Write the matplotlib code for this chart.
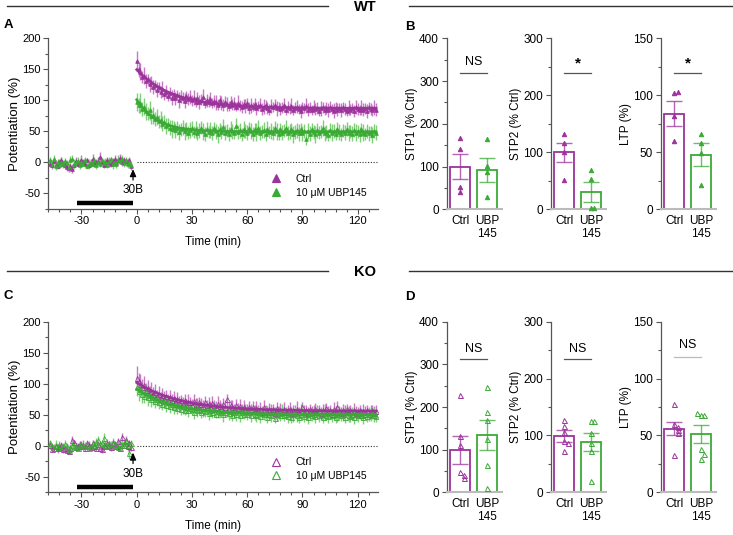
import numpy as np
import matplotlib
matplotlib.use("Agg")
import matplotlib.pyplot as plt
from matplotlib.lines import Line2D
from matplotlib.ticker import MultipleLocator

plt.rcParams['font.family'] = ['Liberation Sans', 'DejaVu Sans']
plt.rcParams['font.size'] = 7.5
plt.rcParams['axes.unicode_minus'] = False

PURPLE = '#9b339b'
PURPLE_L = '#c57ac3'
GREEN = '#3aaa35'
GREEN_L = '#7fcf79'
AXC = '#555555'

# ---------------- time course data (mean, sem), baseline t=-47..-3, post t=0..130
wt_ctrl_base = [-3, -5, 2, -4, -6, 0, 3, -2, -5, -7, -9, -6, -10, -4, 2, -3, 1, 4, 0, -2, 3, -4, -1, 6, -3,
                0, 2, 8, 1, -5, -2, 4, 0, -3, 2, 5, -1, 3, 7, 0, 4, 2, -1, 3, -6]
wt_ctrl_base_sem = [4, 6, 5, 7, 4, 5, 6, 4, 5, 7, 6, 5, 8, 4, 6, 5, 4, 7, 5, 6, 4, 5, 6, 7, 4,
                    5, 6, 8, 5, 4, 6, 5, 7, 4, 5, 6, 4, 5, 7, 6, 5, 4, 6, 5, 7]
wt_ubp_base = [3, -2, 5, -6, 1, -4, 0, -3, 2, -1, -8, 4, 6, -3, 0, 2, -5, 1, -2, 3, -6, -3, 0, -2, 4,
               -4, 1, -3, 3, -1, 0, -4, 2, 5, -2, 1, -3, 4, 2, 6, -1, 3, -2, 1, -4]
wt_ubp_base_sem = [6, 5, 7, 6, 4, 5, 8, 6, 5, 4, 7, 6, 5, 8, 4, 6, 5, 7, 4, 6, 5, 8, 6, 4, 5,
                   7, 6, 5, 4, 6, 7, 5, 6, 4, 8, 5, 6, 7, 4, 5, 6, 5, 7, 6, 5]

wt_ctrl_post = [163, 150, 146, 138, 140, 131, 134, 126, 129, 121,
                124, 117, 121, 113, 118, 110, 114, 107, 112, 104,
                109, 103, 108, 101, 106, 104, 99, 107, 102, 105,
                100, 104, 98, 103, 97, 101, 105, 96, 100, 98,
                102, 95, 99, 97, 93, 100, 96, 92, 98, 94,
                91, 97, 93, 95, 90, 96, 92, 89, 94, 91,
                95, 88, 92, 90, 94, 87, 91, 93, 86, 90,
                92, 88, 85, 91, 89, 93, 87, 90, 86, 88,
                92, 85, 89, 87, 91, 84, 88, 90, 86, 83,
                89, 87, 91, 85, 88, 84, 90, 86, 88, 82,
                87, 89, 85, 88, 84, 90, 86, 83, 88, 85,
                87, 84, 89, 86, 82, 88, 85, 87, 83, 89,
                86, 84, 88, 85, 87, 83, 89, 86, 84, 88, 85]
wt_ctrl_post_sem = [16, 12, 14, 10, 13, 11, 9, 12, 10, 11,
                    9, 12, 8, 10, 13, 9, 11, 8, 10, 12,
                    9, 11, 8, 13, 10, 9, 12, 8, 10, 11,
                    9, 12, 8, 10, 11, 9, 13, 8, 10, 9,
                    11, 8, 10, 12, 9, 8, 11, 10, 9, 12,
                    8, 10, 9, 11, 8, 12, 9, 10, 8, 11,
                    9, 10, 12, 8, 9, 11, 8, 10, 9, 12,
                    8, 10, 9, 11, 8, 9, 12, 8, 10, 9,
                    11, 8, 10, 9, 12, 8, 9, 10, 8, 11,
                    9, 8, 12, 10, 9, 8, 11, 9, 10, 8,
                    12, 9, 8, 10, 11, 9, 8, 12, 9, 10,
                    8, 11, 9, 10, 8, 12, 9, 8, 10, 11,
                    9, 8, 12, 10, 9, 11, 8, 10, 9, 12, 10]
wt_ubp_post = [97, 92, 95, 86, 90, 82, 79, 84, 74, 76,
               70, 73, 66, 69, 62, 65, 58, 61, 56, 54,
               57, 52, 55, 49, 53, 56, 50, 54, 48, 52,
               55, 49, 53, 47, 51, 56, 50, 46, 53, 49,
               52, 47, 55, 50, 45, 53, 49, 57, 48, 51,
               46, 54, 50, 47, 58, 49, 52, 45, 53, 50,
               48, 55, 51, 46, 53, 49, 56, 47, 50, 52,
               45, 54, 49, 51, 47, 55, 50, 46, 53, 48,
               51, 56, 47, 50, 53, 45, 49, 52, 48, 54,
               47, 50, 38, 51, 46, 53, 49, 45, 52, 48,
               50, 55, 47, 49, 44, 52, 48, 51, 46, 53,
               49, 45, 51, 48, 54, 47, 50, 46, 52, 48,
               50, 45, 53, 48, 46, 51, 47, 49, 44, 50, 48]
wt_ubp_post_sem = [15, 12, 16, 11, 14, 13, 10, 15, 12, 14,
                   11, 13, 10, 14, 12, 11, 13, 10, 12, 14,
                   10, 12, 11, 13, 10, 12, 14, 11, 10, 13,
                   12, 10, 13, 11, 12, 10, 14, 11, 12, 10,
                   13, 11, 10, 12, 14, 10, 11, 13, 12, 10,
                   11, 13, 12, 10, 14, 11, 12, 10, 13, 11,
                   12, 10, 13, 11, 10, 14, 12, 11, 10, 13,
                   11, 12, 10, 13, 11, 12, 14, 10, 11, 12,
                   10, 13, 11, 12, 10, 14, 11, 12, 13, 10,
                   12, 11, 10, 13, 12, 10, 11, 14, 12, 11,
                   10, 13, 12, 11, 10, 12, 14, 11, 10, 12,
                   13, 11, 10, 12, 11, 13, 10, 12, 11, 14,
                   10, 12, 11, 13, 10, 11, 12, 10, 13, 11, 12]

ko_ctrl_base = [2, -6, -3, 0, -4, -2, 1, -5, -3, -7, -8, -4, 10, 6, -2, 0, 3, -1, 2, -3, 4, 1, -2, 5, 0,
                -4, 3, -3, -6, 2, -1, 4, 1, -2, 5, 3, 0, 7, -3, 14, 2, 9, -1, 4, -2]
ko_ctrl_base_sem = [5, 4, 6, 5, 7, 4, 5, 6, 4, 5, 6, 7, 5, 4, 6, 5, 4, 6, 7, 5, 4, 6, 5, 4, 7,
                    5, 6, 4, 5, 6, 4, 7, 5, 6, 4, 5, 6, 5, 4, 7, 5, 6, 8, 5, 6]
ko_ubp_base = [4, 0, -3, 2, -2, 1, -4, 0, 3, -1, -5, -3, 2, 0, -2, -4, 1, 3, -1, 0, 2, -3, -1, 4, 1,
               6, 10, 3, 5, 12, 2, -1, 4, 0, 6, 3, 1, -2, 5, 2, 4, 8, 1, -12, 4]
ko_ubp_base_sem = [6, 5, 4, 7, 5, 6, 4, 5, 7, 6, 4, 5, 6, 4, 7, 5, 6, 5, 4, 6, 7, 5, 4, 6, 5,
                   7, 6, 4, 5, 8, 6, 5, 4, 7, 6, 5, 4, 6, 5, 7, 4, 6, 5, 10, 6]

ko_ctrl_post = [110, 104, 100, 95, 98, 90, 93, 86, 89, 84,
                87, 80, 84, 78, 82, 76, 80, 74, 78, 73,
                77, 71, 75, 70, 74, 68, 73, 67, 71, 70,
                66, 72, 68, 65, 71, 67, 64, 70, 66, 68,
                63, 69, 65, 62, 68, 64, 61, 67, 63, 75,
                60, 66, 62, 59, 65, 61, 64, 58, 63, 60,
                57, 63, 59, 62, 56, 61, 58, 60, 55, 62,
                58, 54, 60, 57, 59, 53, 61, 56, 58, 55,
                60, 54, 57, 59, 53, 58, 56, 60, 54, 57,
                62, 55, 58, 53, 59, 56, 54, 60, 55, 57,
                53, 58, 56, 61, 54, 57, 52, 59, 55, 62,
                56, 53, 58, 55, 60, 54, 57, 52, 58, 55,
                53, 57, 50, 56, 54, 58, 52, 55, 57, 53, 56]
ko_ctrl_post_sem = [18, 14, 16, 12, 15, 11, 13, 10, 14, 11,
                    12, 10, 13, 9, 11, 12, 10, 9, 12, 10,
                    11, 9, 12, 10, 8, 11, 10, 9, 12, 8,
                    10, 11, 9, 12, 8, 10, 9, 11, 8, 10,
                    9, 11, 8, 10, 12, 9, 8, 10, 11, 9,
                    10, 8, 11, 9, 10, 8, 12, 9, 10, 8,
                    11, 9, 8, 10, 9, 11, 8, 10, 9, 12,
                    8, 10, 9, 11, 8, 9, 10, 8, 11, 9,
                    10, 8, 9, 11, 10, 8, 9, 12, 8, 10,
                    9, 11, 8, 10, 9, 8, 11, 9, 10, 8,
                    10, 9, 11, 8, 10, 9, 8, 11, 9, 10,
                    8, 10, 9, 11, 8, 10, 9, 8, 11, 9,
                    10, 8, 9, 11, 10, 8, 9, 10, 8, 11, 9]
ko_ubp_post = [95, 88, 91, 84, 80, 86, 78, 82, 75, 79,
               72, 76, 70, 74, 68, 72, 66, 70, 64, 68,
               63, 67, 61, 65, 60, 64, 58, 63, 57, 61,
               59, 55, 62, 57, 60, 54, 58, 56, 61, 53,
               57, 55, 59, 52, 56, 54, 58, 51, 55, 57,
               53, 56, 50, 55, 52, 57, 49, 54, 52, 56,
               51, 54, 49, 56, 52, 50, 55, 48, 53, 51,
               55, 47, 52, 50, 54, 45, 51, 53, 49, 55,
               50, 52, 48, 54, 46, 51, 53, 49, 47, 52,
               55, 48, 51, 46, 53, 50, 52, 48, 54, 49,
               51, 47, 53, 50, 48, 54, 49, 52, 46, 51,
               53, 49, 51, 47, 54, 50, 48, 52, 46, 51,
               49, 53, 50, 47, 52, 48, 51, 49, 53, 50, 48]
ko_ubp_post_sem = [14, 16, 12, 15, 11, 13, 14, 10, 12, 13,
                   11, 12, 10, 13, 11, 9, 12, 10, 11, 9,
                   12, 10, 9, 11, 10, 12, 9, 11, 10, 8,
                   10, 12, 9, 11, 8, 10, 12, 9, 10, 11,
                   9, 10, 12, 8, 11, 9, 10, 12, 9, 10,
                   11, 9, 10, 8, 12, 9, 11, 10, 9, 12,
                   10, 8, 11, 9, 10, 12, 9, 11, 8, 10,
                   9, 11, 10, 12, 9, 8, 11, 10, 9, 12,
                   10, 9, 11, 8, 10, 12, 9, 10, 11, 9,
                   12, 10, 9, 11, 8, 10, 9, 12, 10, 11,
                   9, 10, 12, 8, 11, 9, 10, 11, 9, 12,
                   10, 9, 11, 10, 8, 12, 9, 10, 11, 9,
                   11, 10, 9, 12, 8, 10, 11, 9, 10, 12, 9]

# ---------------- bar data: (mean, sem, individual slices)
groups = ['Ctrl', 'UBP\n145']
wt_stp1_mean, wt_stp1_sem = [100, 93], [30, 28]
wt_stp1_pts = [[166, 140, 53, 41], [164, 101, 88, 29]]
wt_stp2_mean, wt_stp2_sem = [100, 30], [17, 18]
wt_stp2_pts = [[132, 117, 101, 51], [69, 53, 2, 2]]
wt_ltp_mean, wt_ltp_sem = [84, 48], [11, 10]
wt_ltp_pts = [[102, 103, 82, 60], [66, 58, 49, 21]]

ko_stp1_mean, ko_stp1_sem = [99, 134], [32, 35]
ko_stp1_pts = [[229, 131, 112, 48, 40, 33], [247, 188, 169, 125, 65, 9]]
ko_stp2_mean, ko_stp2_sem = [99, 88], [10, 16]
ko_stp2_pts = [[128, 117, 106, 90, 86, 73], [125, 126, 104, 86, 73, 20]]
ko_ltp_mean, ko_ltp_sem = [56, 51], [6, 8]
ko_ltp_pts = [[78, 60, 57, 55, 52, 33], [68, 68, 70, 38, 34, 29]]

W, H = 733, 535
fig = plt.figure(figsize=(W / 100, H / 100), dpi=100)


def fax(x0, y0, x1, y1):
    # pixel box (top-left origin) -> figure axes
    return fig.add_axes([x0 / W, 1 - y1 / H, (x1 - x0) / W, (y1 - y0) / H])


def exp_fit(t, y):
    best = None
    for tau in np.linspace(1, 60, 400):
        X = np.column_stack([np.ones_like(t), np.exp(-t / tau)])
        coef = np.linalg.lstsq(X, y, rcond=None)[0]
        err = np.sum((X @ coef - y) ** 2)
        if best is None or err < best[0]:
            best = (err, tau, coef)
    _, tau, coef = best
    tt = np.linspace(t.min(), t.max(), 300)
    return tt, coef[0] + coef[1] * np.exp(-tt / tau)


def style_spines(ax, size=8):
    for s in ['top', 'right']:
        ax.spines[s].set_visible(False)
    for s in ['left', 'bottom']:
        ax.spines[s].set_color(AXC)
        ax.spines[s].set_linewidth(0.9)
    ax.tick_params(which='both', direction='out', color=AXC, width=0.8, labelsize=size, pad=2)
    ax.tick_params(which='major', length=3.5)
    ax.tick_params(which='minor', length=2)


def time_panel(ax, series, open_mk, bar_y, labels):
    for base, bsem, post, psem, col, lcol in series:
        base = np.array(base, float)
        post = np.array(post, float)
        tb = np.arange(len(base)) - len(base) - 2
        tp = np.arange(len(post))
        for t, m, s in [(tb, base, bsem), (tp, post, psem)]:
            ax.errorbar(t, m, yerr=s, fmt='none', ecolor=lcol, elinewidth=1.0, zorder=2)
            ax.plot(t, m, '^', ms=2.6 if not open_mk else 3.6,
                    mfc='none' if open_mk else col, mec=col, mew=0.6, zorder=3)
        tt, yy = exp_fit(tp.astype(float), post)
        ax.plot(tt, yy, color=col, lw=1.9, zorder=4)
    ax.plot([0, 131], [0, 0], ls=(0, (1, 1.5)), color='#333333', lw=0.8, zorder=1)
    ax.plot([-32.5, -2], [bar_y, bar_y], color='k', lw=3.2, solid_capstyle='butt')
    ax.annotate('30B', xy=(-2, -11), xytext=(-2, -45), ha='center', va='center', fontsize=8.5,
                arrowprops=dict(arrowstyle='-|>,head_length=0.5,head_width=0.22', color='k', lw=0.9,
                                shrinkA=1, shrinkB=0))
    ax.set_xlim(-48, 131)
    ax.set_ylim(-75, 200)
    ax.set_xticks([-30, 0, 30, 60, 90, 120])
    ax.xaxis.set_minor_locator(MultipleLocator(6))
    ax.set_yticks([-50, 0, 50, 100, 150, 200])
    ax.yaxis.set_minor_locator(MultipleLocator(25))
    ax.set_xlabel('Time (min)', fontsize=8.5, labelpad=7)
    ax.set_ylabel('Potentiation (%)', fontsize=9.5, labelpad=1)
    style_spines(ax, 8)
    handles = [Line2D([], [], ls='none', marker='^', ms=6, mfc='none' if open_mk else c, mec=c, mew=0.8)
               for c in (PURPLE, GREEN)]
    ax.legend(handles, labels, loc='lower left', bbox_to_anchor=(0.655, 0.035), frameon=False,
              fontsize=7.5, handlelength=1.2, handletextpad=1.3, labelspacing=0.35, borderpad=0)


def spread(vals, thr):
    vals = np.asarray(vals, float)
    off = np.zeros(len(vals))
    for i in range(len(vals)):
        near = [j for j in range(i) if abs(vals[j] - vals[i]) < thr]
        k = len(near)
        if k:
            off[i] = 0.13 * ((k + 1) // 2) * (1 if k % 2 else -1)
    return off


def bar_panel(ax, means, sems, pts, ymax, ylabel, sig, open_mk, sig_y, txt_y, sig_col='#555555'):
    cols = [PURPLE, GREEN]
    x = np.arange(2)
    ax.bar(x, means, width=0.76, facecolor='white', edgecolor=cols, linewidth=1.3, zorder=1)
    for i in range(2):
        ax.errorbar(x[i], means[i], yerr=sems[i], fmt='none', ecolor=cols[i],
                    elinewidth=1.0, capsize=6, capthick=1.0, alpha=0.75, zorder=2)
        v = np.array(pts[i], float)
        ax.plot(x[i] + spread(v, ymax * 0.03), v, '^', ms=3.2 if not open_mk else 3.6,
                mfc='none' if open_mk else cols[i], mec=cols[i], mew=0.7, zorder=3, clip_on=False)
    ax.plot([0, 1], [sig_y, sig_y], color=sig_col, lw=0.9)
    ax.text(0.5, txt_y, sig, ha='center', va='center', fontsize=9 if sig == 'NS' else 11,
            fontweight='normal' if sig == 'NS' else 'bold')
    ax.set_xlim(-0.5, 1.55)
    ax.set_ylim(0, ymax)
    ax.set_yticks(np.linspace(0, ymax, 5 if ymax == 400 else 4))
    ax.yaxis.set_minor_locator(MultipleLocator(ymax / (8 if ymax == 400 else 6)))
    ax.set_xticks(x)
    ax.set_xticklabels(groups, fontsize=8.5, linespacing=1.1)
    ax.set_ylabel(ylabel, fontsize=8.5, labelpad=1)
    style_spines(ax, 8.5)
    ax.tick_params(axis='x', length=0, pad=4)
    ax.spines['bottom'].set_color('#bbbbbb')
    ax.spines['bottom'].set_linewidth(1.5)


# ---------------- panels A and C
axA = fax(48.3, 38.3, 378, 208.8)
time_panel(axA, [(wt_ctrl_base, wt_ctrl_base_sem, wt_ctrl_post, wt_ctrl_post_sem, PURPLE, PURPLE_L),
                 (wt_ubp_base, wt_ubp_base_sem, wt_ubp_post, wt_ubp_post_sem, GREEN, GREEN_L)],
           False, -65, ['Ctrl', '10 μM UBP145'])
axC = fax(48.3, 321.7, 378, 492.3)
time_panel(axC, [(ko_ctrl_base, ko_ctrl_base_sem, ko_ctrl_post, ko_ctrl_post_sem, PURPLE, PURPLE_L),
                 (ko_ubp_base, ko_ubp_base_sem, ko_ubp_post, ko_ubp_post_sem, GREEN, GREEN_L)],
           True, -67, ['Ctrl', '10 μM UBP145'])

# ---------------- panels B and D
lefts = [446.7, 550.7, 660.7]
wt_sets = [(wt_stp1_mean, wt_stp1_sem, wt_stp1_pts, 400, 'STP1 (% Ctrl)', 'NS'),
           (wt_stp2_mean, wt_stp2_sem, wt_stp2_pts, 300, 'STP2 (% Ctrl)', '*'),
           (wt_ltp_mean, wt_ltp_sem, wt_ltp_pts, 150, 'LTP (%)', '*')]
ko_sets = [(ko_stp1_mean, ko_stp1_sem, ko_stp1_pts, 400, 'STP1 (% Ctrl)', 'NS'),
           (ko_stp2_mean, ko_stp2_sem, ko_stp2_pts, 300, 'STP2 (% Ctrl)', 'NS'),
           (ko_ltp_mean, ko_ltp_sem, ko_ltp_pts, 150, 'LTP (%)', 'NS')]
for lx, (m, s, p, ymax, lab, sig) in zip(lefts, wt_sets):
    ax = fax(lx, 38.3, lx + 55, 209.3)
    bar_panel(ax, m, s, p, ymax, lab, sig, False, ymax * 0.80, ymax * 0.86 if sig == 'NS' else 0.85 * ymax)
for k, (lx, (m, s, p, ymax, lab, sig)) in enumerate(zip(lefts, ko_sets)):
    ax = fax(lx, 321.7, lx + 55, 492.3)
    if k < 2:
        bar_panel(ax, m, s, p, ymax, lab, sig, True, ymax * 0.78, ymax * 0.84)
    else:
        bar_panel(ax, m, s, p, ymax, lab, sig, True, ymax * 0.795, ymax * 0.865, sig_col='#bbbbbb')

# ---------------- headers and panel letters
for y, name in [(5.7, 'WT'), (271, 'KO')]:
    fig.add_artist(Line2D([6.7 / W, 328 / W], [1 - y / H] * 2, color='#333333', lw=1))
    fig.add_artist(Line2D([409 / W, 733 / W], [1 - y / H] * 2, color='#333333', lw=1))
    fig.text(365 / W, 1 - (y + 1.5) / H, name, ha='center', va='center', fontsize=10.5, fontweight='bold')
for x, y, s in [(4, 25, 'A'), (405, 27, 'B'), (4, 296, 'C'), (405, 297, 'D')]:
    fig.text(x / W, 1 - y / H, s, ha='left', va='center', fontsize=9.5, fontweight='bold')

fig.savefig('out.png', dpi=100)
